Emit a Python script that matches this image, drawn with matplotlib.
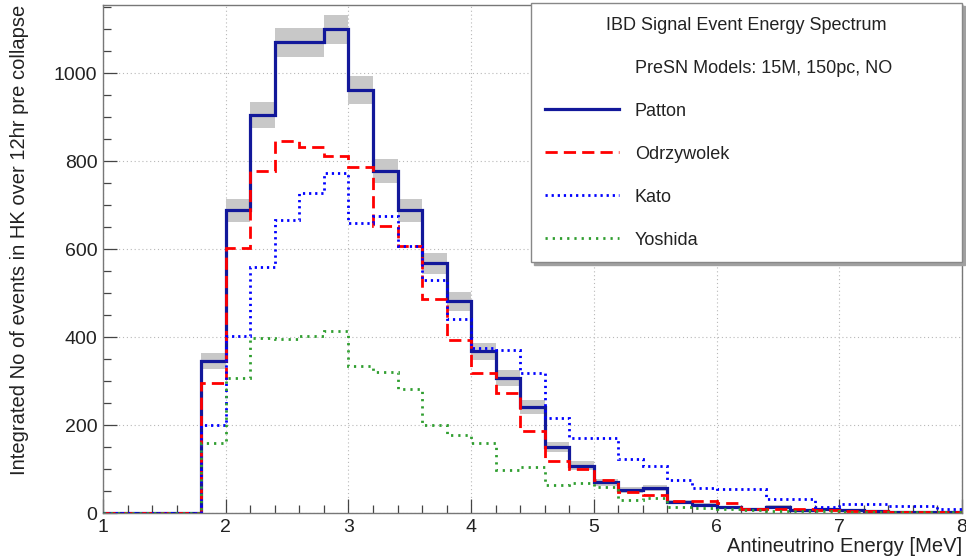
import matplotlib
matplotlib.use('Agg')
import matplotlib.pyplot as plt
import numpy as np
from matplotlib.lines import Line2D
from matplotlib.ticker import MultipleLocator

plt.rcParams['font.family'] = ['Liberation Sans', 'DejaVu Sans']

# ---- data (bin edges 1.0 .. 8.0, width 0.2) ----
bin_edges = [1.0, 1.2, 1.4, 1.6, 1.8, 2.0, 2.2, 2.4, 2.6, 2.8, 3.0, 3.2, 3.4, 3.6,
             3.8, 4.0, 4.2, 4.4, 4.6, 4.8, 5.0, 5.2, 5.4, 5.6, 5.8, 6.0, 6.2, 6.4,
             6.6, 6.8, 7.0, 7.2, 7.4, 7.6, 7.8, 8.0]

patton = [0, 0, 0, 0, 345, 688, 905, 1070, 1070, 1100, 962, 778, 688, 568, 481,
          368, 307, 241, 150, 107, 70, 52, 57, 25, 18, 13, 8, 14, 6, 8, 6, 4, 3, 3, 2]
odrzywolek = [0, 0, 0, 0, 295, 603, 778, 845, 832, 812, 787, 652, 607, 487, 393,
              318, 273, 186, 118, 100, 75, 48, 40, 27, 27, 22, 10, 9, 8, 6, 5, 4, 3, 3, 2]
kato = [0, 0, 0, 0, 200, 402, 559, 666, 727, 772, 659, 675, 607, 530, 441,
        375, 370, 318, 216, 171, 171, 123, 107, 75, 57, 54, 54, 32, 32, 14, 20, 20, 17, 15, 9]
yoshida = [0, 0, 0, 0, 159, 307, 398, 395, 402, 414, 334, 321, 281, 200, 177,
           159, 98, 105, 64, 68, 60, 30, 34, 14, 11, 8, 6, 5, 4, 4, 3, 3, 2, 2, 2]

legend_title = 'IBD Signal Event Energy Spectrum'
legend_sub = 'PreSN Models: 15M, 150pc, NO'
labels = ['Patton', 'Odrzywolek', 'Kato', 'Yoshida']
xlabel = 'Antineutrino Energy [MeV]'
ylabel = 'Integrated No of events in HK over 12hr pre collapse'

c_patton = '#12189a'
c_odr = '#ff0000'
c_kato = '#0000ff'
c_yosh = '#2f9e2f'

ls_odr = (0, (4.4, 2.2))
ls_kato = (0, (0.8, 1.4))
ls_yosh = (0, (0.8, 1.8))

# ---- figure ----
W, H = 966, 558
fig = plt.figure(figsize=(W / 100, H / 100), dpi=100)
L, R, B, T = 103, 962, 513, 5
ax = fig.add_axes([L / W, (H - B) / H, (R - L) / W, (B - T) / H])
ax.set_xlim(1, 8)
ax.set_ylim(0, 1155)

ax.grid(True, which='major', ls=(0, (1, 2.5)), color='#b8b8b8', lw=0.8)
ax.set_axisbelow(True)

edges = np.array(bin_edges)
pv = np.array(patton, dtype=float)
err = np.sqrt(pv)
ax.bar(edges[:-1], 2 * err, bottom=pv - err, width=np.diff(edges), align='edge',
       color='#c8c8c8', edgecolor='none', zorder=1.5)

ax.stairs(patton, edges, color=c_patton, lw=2.3, zorder=3)
ax.stairs(odrzywolek, edges, color=c_odr, lw=2.0, linestyle=ls_odr, zorder=3.1)
ax.stairs(kato, edges, color=c_kato, lw=2.0, linestyle=ls_kato, zorder=3.2)
ax.stairs(yoshida, edges, color=c_yosh, lw=2.0, linestyle=ls_yosh, zorder=3.3)

# ticks
ax.xaxis.set_major_locator(MultipleLocator(1))
ax.xaxis.set_minor_locator(MultipleLocator(0.2))
ax.yaxis.set_major_locator(MultipleLocator(200))
ax.yaxis.set_minor_locator(MultipleLocator(50))
ax.tick_params(which='both', direction='in', top=False, right=False, colors='#444444',
               labelcolor='#222222', labelsize=14)
ax.tick_params(which='major', length=10, width=0.9)
ax.tick_params(which='minor', length=6, width=0.9)
ax.tick_params(axis='x', pad=4)
ax.tick_params(axis='y', pad=4)
for s in ax.spines.values():
    s.set_color('#777777')
    s.set_linewidth(1.0)

ax.set_xlabel(xlabel, fontsize=14.5, color='#222222', ha='right', va='center')
ax.xaxis.set_label_coords(1.0, (B - 546) / (B - T))
ax.set_ylabel(ylabel, fontsize=14.5, color='#222222', ha='right', va='center')
ax.yaxis.set_label_coords((20 - L) / (R - L), 1.0)

handles = [Line2D([], [], color='none'),
           Line2D([], [], color=c_patton, lw=2.3),
           Line2D([], [], color=c_odr, lw=2.0, linestyle=ls_odr),
           Line2D([], [], color=c_kato, lw=2.0, linestyle=ls_kato),
           Line2D([], [], color=c_yosh, lw=2.0, linestyle=ls_yosh)]
leg = ax.legend(handles, [legend_sub] + labels, title=legend_title,
                loc='upper left',
                bbox_to_anchor=((531 - L) / (R - L), 0, (R - 531) / (R - L), (B - 3) / (B - T)),
                mode='expand', borderaxespad=0, fontsize=13, title_fontsize=13,
                handlelength=4.1, handletextpad=0.9, borderpad=0.75, labelspacing=1.44,
                fancybox=False, framealpha=1, edgecolor='#888888',
                shadow={'color': '#a0a0a0', 'alpha': 1})
leg.get_frame().set_linewidth(1.0)
leg.set_zorder(10)
for t in leg.get_texts():
    t.set_color('#222222')
leg.get_title().set_color('#222222')

fig.savefig('out.png', dpi=100)
